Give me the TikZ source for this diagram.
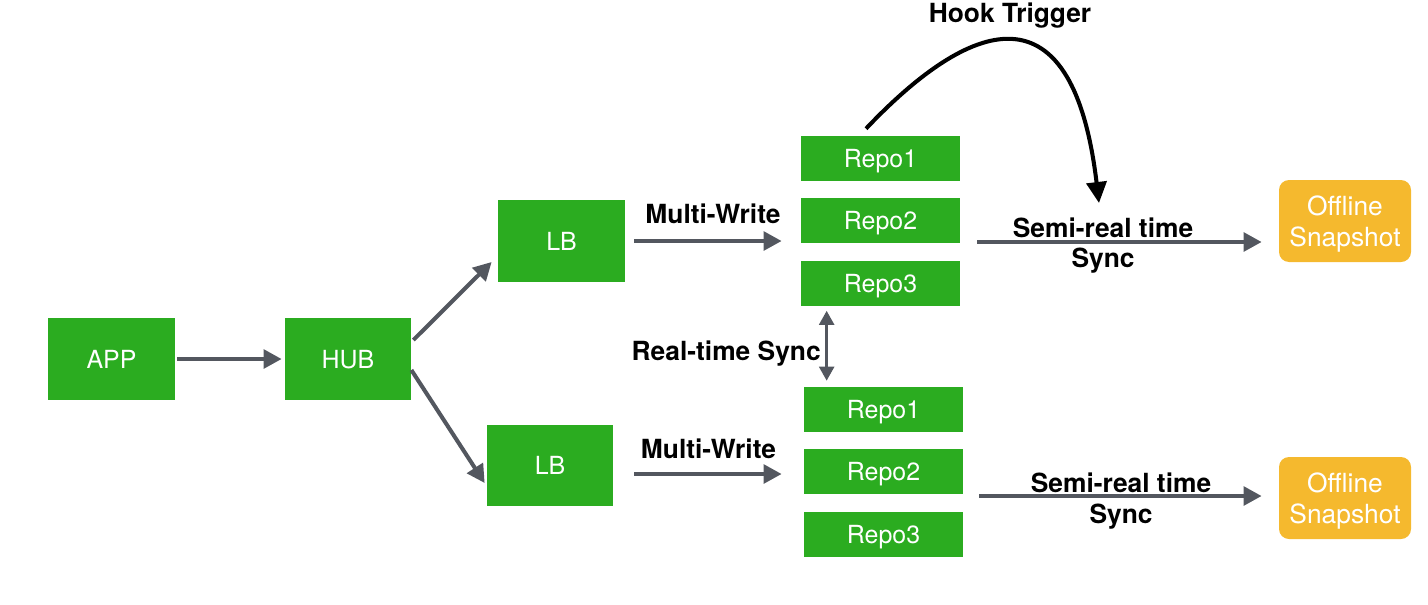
\documentclass[tikz,border=0pt]{standalone}
\usepackage{fontspec}
\setmainfont{TeX Gyre Heros}
\usetikzlibrary{arrows.meta}

\definecolor{boxgreen}{HTML}{2BAC20}
\definecolor{snaporange}{HTML}{F5B92E}
\definecolor{arrowgray}{HTML}{53575F}

\tikzset{
	box/.style={fill=boxgreen, text=white, inner sep=0pt, text depth=0pt, minimum width=2.54cm, minimum height=1.64cm, font=\fontsize{14.2}{17}\selectfont},
	repo/.style={box, minimum width=3.18cm, minimum height=0.9cm},
	snap/.style={fill=snaporange, text=white, rounded corners=0.2cm, inner sep=0pt, text depth=0pt, minimum width=2.64cm, minimum height=1.64cm, align=center, font=\fontsize{15}{17.5}\selectfont},
	flow/.style={draw=arrowgray, line width=2.3pt, -{Triangle[length=0.36cm,width=0.37cm]}},
	sync/.style={draw=arrowgray, line width=1.4pt, {Triangle[length=0.28cm,width=0.3cm]}-{Triangle[length=0.28cm,width=0.3cm]}},
	hook/.style={draw=black, line width=2.3pt, -{Triangle[length=0.42cm,width=0.4cm]}},
	lbl/.style={font=\fontsize{15}{17.5}\selectfont\bfseries, text=black, align=center, inner sep=1pt}
}

\begin{document}
\begin{tikzpicture}
	\useasboundingbox (0,0) rectangle (28.56,12.08);
	% entry side
	\node[box] (app) at (2.23,4.90) {APP};
	\node[box, minimum width=2.52cm] (hub) at (6.96,4.90) {HUB};
	\node[box] (lbA) at (11.23,7.26) {LB};
	\node[box, minimum width=2.52cm, minimum height=1.62cm] (lbB) at (11.00,2.77) {LB};
	% repo groups
	\node[repo] (repoA1) at (17.61,8.91) {Repo1};
	\node[repo] (repoA2) at (17.61,7.67) {Repo2};
	\node[repo] (repoA3) at (17.61,6.42) {Repo3};
	\node[repo] (repoB1) at (17.67,3.89) {Repo1};
	\node[repo] (repoB2) at (17.67,2.65) {Repo2};
	\node[repo] (repoB3) at (17.67,1.39) {Repo3};
	\node[snap] (snapA) at (26.90,7.66) {Offline\\Snapshot};
	\node[snap] (snapB) at (26.90,2.12) {Offline\\Snapshot};

	\draw[flow, shorten <=0.04cm, shorten >=0.06cm] (app) -- (hub);
	\draw[flow] ([shift={(0.04,0.38)}]hub.east) -- ([shift={(-0.12,-0.42)}]lbA.west);
	\draw[flow] ([shift={(0,-0.22)}]hub.east) -- ([shift={(-0.04,-0.35)}]lbB.west);

	\draw[flow, shorten <=0.18cm, shorten >=0.38cm] (lbA.east) -- (lbA.east -| repoA2.west) node[lbl, midway, above=0.27cm] (mwA) {Multi-Write};
	\coordinate (lbBout) at ([yshift=-0.17cm]lbB.east);
	\draw[flow, shorten <=0.42cm, shorten >=0.44cm] (lbBout) -- (lbBout -| repoB2.west) node[lbl, midway, above=0.23cm] (mwB) {Multi-Write};

	\coordinate (syncTop) at ([xshift=0.52cm]repoA3.south west);
	\draw[sync, shorten <=0.1cm, shorten >=0.12cm] (syncTop) -- (syncTop |- repoB1.north) node[lbl, midway, left=0.06cm, yshift=-0.15cm] (rts) {Real-time Sync};

	\coordinate (semiA) at ([yshift=-0.43cm]repoA2.east);
	\draw[flow, shorten <=0.34cm, shorten >=0.34cm] (semiA) -- (semiA -| snapA.west) node[lbl, midway, xshift=-0.33cm, yshift=-0.07cm] (semiAlbl) {Semi-real time\\Sync};
	\coordinate (semiB) at ([yshift=-0.49cm]repoB2.east);
	\draw[flow, shorten <=0.32cm, shorten >=0.34cm] (semiB) -- (semiB -| snapB.west) node[lbl, midway, yshift=-0.1cm] (semiBlbl) {Semi-real time\\Sync};

	%% hook from the first repo over to the sync arrow
	\coordinate (hookS) at ([shift={(-0.29,0.14)}]repoA1.north);
	\coordinate (hookE) at (21.98,8.02);
	\draw[hook] (hookS) .. controls (19.0,11.28) and (21.4,12.88) .. (hookE);
	\node[lbl] (hookLbl) at (20.2,11.76) {Hook Trigger};
\end{tikzpicture}
\end{document}
